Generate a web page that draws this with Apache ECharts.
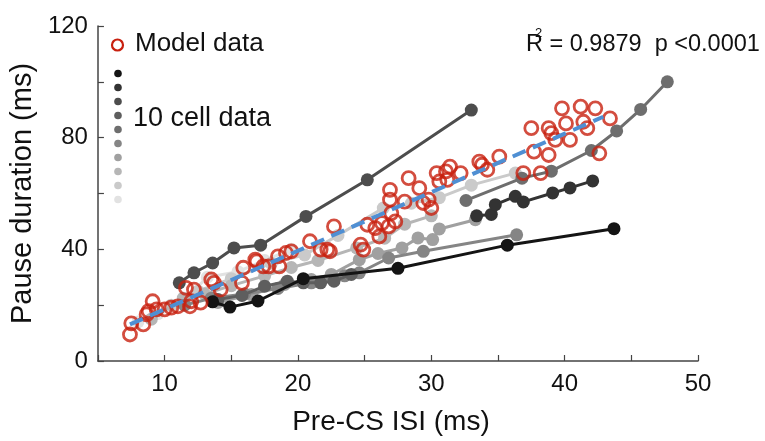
<!DOCTYPE html>
<html>
<head>
<meta charset="utf-8">
<script src="https://cdn.jsdelivr.net/npm/echarts@6/dist/echarts.min.js"></script>
<style>
  html, body { margin: 0; padding: 0; background: #fff; }
  #chart { width: 765px; height: 441px; }
</style>
</head>
<body>
<div id="chart"></div>
<script>
// Axis ticks (labelled every 10 ms on x, every 40 ms on y)
const xTicks = [10, 20, 30, 40, 50];
const yTicks = [0, 40, 80, 120];

// Model data: [pre-CS ISI, pause duration] in ms
const modelData = [
  [7.4, 9.5], [7.5, 13.5], [8.4, 13.1], [8.65, 16.7], [8.8, 17.9], [9.1, 21.4], [9.4, 18.5],
  [10.0, 18.5], [10.5, 19.1], [11.0, 19.6], [11.9, 19.6], [12.0, 21.4], [12.7, 20.9],
  [11.6, 26.2], [12.2, 25.6], [13.5, 29.2], [13.7, 28.0], [14.2, 25.6], [15.8, 28.0],
  [15.9, 33.4], [16.8, 36.3], [16.9, 35.7], [17.4, 33.9], [17.8, 33.9], [18.5, 37.5],
  [18.6, 33.9], [19.1, 38.7], [19.5, 39.3], [20.9, 42.9], [21.7, 39.9], [22.2, 39.9],
  [22.4, 39.3], [22.7, 48.2], [24.7, 41.7], [24.9, 39.9], [25.2, 48.8], [25.8, 47.6],
  [26.1, 44.6], [26.3, 49.4], [26.8, 48.2], [27.0, 53.0], [27.3, 50.0], [26.9, 57.8],
  [26.9, 61.3], [28.0, 57.1], [28.3, 65.5], [29.1, 61.9], [29.4, 56.6], [29.8, 57.8],
  [30.0, 54.8], [30.4, 67.3], [30.6, 64.3], [31.1, 67.9], [31.4, 69.6], [31.2, 64.9],
  [32.2, 67.3], [33.6, 71.4], [33.8, 70.3], [34.2, 68.5], [35.1, 73.2], [36.9, 67.3],
  [37.5, 83.4], [37.7, 75.0], [38.2, 67.3], [38.8, 83.4], [38.8, 73.8], [39.0, 81.6],
  [39.3, 79.2], [39.8, 90.5], [40.1, 85.1], [40.4, 79.2], [41.2, 91.1], [41.4, 85.7],
  [41.7, 83.4], [42.3, 90.5], [42.6, 74.4], [43.4, 86.9]
];

// Linear fit through the model data (end points)
const fitLine = [[7.4, 13.1], [42.9, 87.5]];

// Recorded cells, darkest to lightest shade
const cellShades = ['#141414', '#333333', '#4d4d4d', '#5e5e5e', '#6e6e6e',
                    '#858585', '#a0a0a0', '#b6b6b6', '#cacaca', '#e2e2e2'];
const cell1 = [[13.6, 21.2], [14.9, 19.3], [17.0, 21.5], [20.4, 29.5], [27.5, 33.2], [35.7, 41.5], [43.7, 47.4]];
const cell2 = [[33.4, 52.0], [34.5, 52.5], [34.8, 56.0], [36.3, 59.0], [36.9, 57.0], [39.1, 60.2], [40.4, 62.0], [42.1, 64.5]];
const cell3 = [[11.1, 28.0], [12.2, 31.6], [13.6, 35.1], [15.2, 40.5], [17.2, 41.5], [20.6, 51.8], [25.2, 64.9], [33.0, 89.9]];
const cell4 = [[14.0, 22.0], [15.8, 23.5], [17.5, 26.8], [19.2, 28.6], [20.4, 28.0], [21.7, 28.0], [22.7, 28.6], [24.0, 31.0]];
const cell5 = [[32.6, 57.5], [36.8, 65.5], [39.0, 68.0], [42.0, 75.4], [43.9, 82.4], [45.7, 90.1], [47.7, 100.0]];
const cell6 = [[11.5, 20.0], [13.5, 22.5], [16.0, 24.0], [18.5, 26.0], [21.0, 28.0], [23.5, 30.5], [24.6, 31.6], [26.8, 36.9], [29.4, 39.3], [36.4, 45.2]];
const cell7 = [[14.0, 21.0], [16.5, 23.8], [19.0, 27.4], [21.0, 29.2], [22.5, 31.0], [24.6, 36.3], [26.0, 38.5], [27.8, 40.5], [29.0, 44.1], [30.1, 43.5], [30.6, 47.3], [33.3, 50.6]];
const cell8 = [[9.0, 15.0], [11.4, 22.5], [13.0, 24.0], [15.0, 27.0], [17.5, 30.5], [19.5, 33.5], [21.5, 36.0], [24.4, 40.5], [26.5, 44.0], [28.0, 49.0], [30.0, 52.0]];
const cell9 = [[10.5, 20.0], [12.5, 25.0], [15.0, 29.5], [18.0, 35.0], [20.5, 38.0], [23.0, 45.0], [26.4, 54.8], [28.5, 56.5], [30.6, 58.5], [33.0, 63.0], [36.3, 67.3]];
const cell10 = [[8.0, 14.0], [9.5, 17.0], [11.5, 22.0], [13.2, 30.0], [15.5, 32.0], [17.5, 36.0], [19.5, 40.0]];
const cells = [cell1, cell2, cell3, cell4, cell5, cell6, cell7, cell8, cell9, cell10];

const FONT = '"Liberation Sans", Arial, sans-serif';
const RED = '#c8200f';

const chart = echarts.init(document.getElementById('chart'));

// Cells are painted lightest first so darker traces sit on top
const cellSeries = cells.map((pts, i) => ({
  type: 'line',
  data: pts,
  symbol: 'circle',
  symbolSize: 13,
  showSymbol: true,
  itemStyle: { color: cellShades[i], borderWidth: 0 },
  lineStyle: { color: cellShades[i], width: 3 },
  z: 2 + (10 - i) * 0.01,
  animation: false,
  silent: true
})).reverse();

// Legend swatches for the ten cells
const legendDots = cellShades.map((c, i) => ({
  type: 'circle',
  shape: { cx: 118, cy: 73.5 + i * 14, r: 3.8 },
  style: { fill: c }
}));

chart.setOption({
  animation: false,
  grid: { left: 92, right: 67, top: 26, bottom: 79 },
  xAxis: {
    type: 'value', min: 5, max: 50, interval: 5,
    name: 'Pre-CS ISI (ms)', nameLocation: 'middle', nameGap: 47,
    nameTextStyle: { fontFamily: FONT, fontSize: 28, color: '#111', padding: [0, 14, 0, 0] },
    axisLine: { lineStyle: { color: '#444', width: 1.5 } },
    axisTick: { inside: true, length: 6, lineStyle: { color: '#444', width: 1.2 } },
    axisLabel: {
      margin: 11, fontFamily: FONT, fontSize: 24, color: '#111',
      formatter: v => (xTicks.indexOf(v) >= 0 ? String(v) : '')
    },
    splitLine: { show: false }
  },
  yAxis: {
    type: 'value', min: 0, max: 120, interval: 20,
    name: 'Pause duration (ms)', nameLocation: 'middle', nameGap: 51,
    nameTextStyle: { fontFamily: FONT, fontSize: 29, color: '#111' },
    axisLine: { lineStyle: { color: '#444', width: 1.5 } },
    axisTick: { inside: true, length: 6, lineStyle: { color: '#444', width: 1.2 } },
    axisLabel: {
      margin: 10, fontFamily: FONT, fontSize: 24, color: '#111',
      formatter: v => (yTicks.indexOf(v) >= 0 ? String(v) : '')
    },
    splitLine: { show: false }
  },
  series: cellSeries.concat([
    {
      type: 'scatter',
      data: modelData,
      symbol: 'circle',
      symbolSize: 13,
      itemStyle: { color: 'rgba(255,255,255,0)', borderColor: RED, borderWidth: 2.8 },
      z: 5,
      silent: true
    },
    {
      type: 'line',
      data: fitLine,
      symbol: 'none',
      lineStyle: { color: '#4f8fd3', width: 4, type: [14, 8] },
      z: 6,
      silent: true
    }
  ]),
  graphic: [
    {
      type: 'circle',
      shape: { cx: 117.5, cy: 45, r: 5.5 },
      style: { fill: 'none', stroke: RED, lineWidth: 2.2 }
    },
    {
      type: 'text', left: 135, top: 31,
      style: { text: 'Model data', font: '26px ' + FONT, fill: '#111' }
    },
    {
      type: 'text', left: 133, top: 105,
      style: { text: '10 cell data', font: '27px ' + FONT, fill: '#111' }
    },
    {
      type: 'text', left: 526, top: 33,
      style: { text: 'R = 0.9879  p <0.0001', font: '23.5px ' + FONT, fill: '#111' }
    },
    {
      type: 'text', left: 535, top: 27,
      style: { text: '2', font: '13px ' + FONT, fill: '#111' }
    }
  ].concat(legendDots)
});
</script>
</body>
</html>
